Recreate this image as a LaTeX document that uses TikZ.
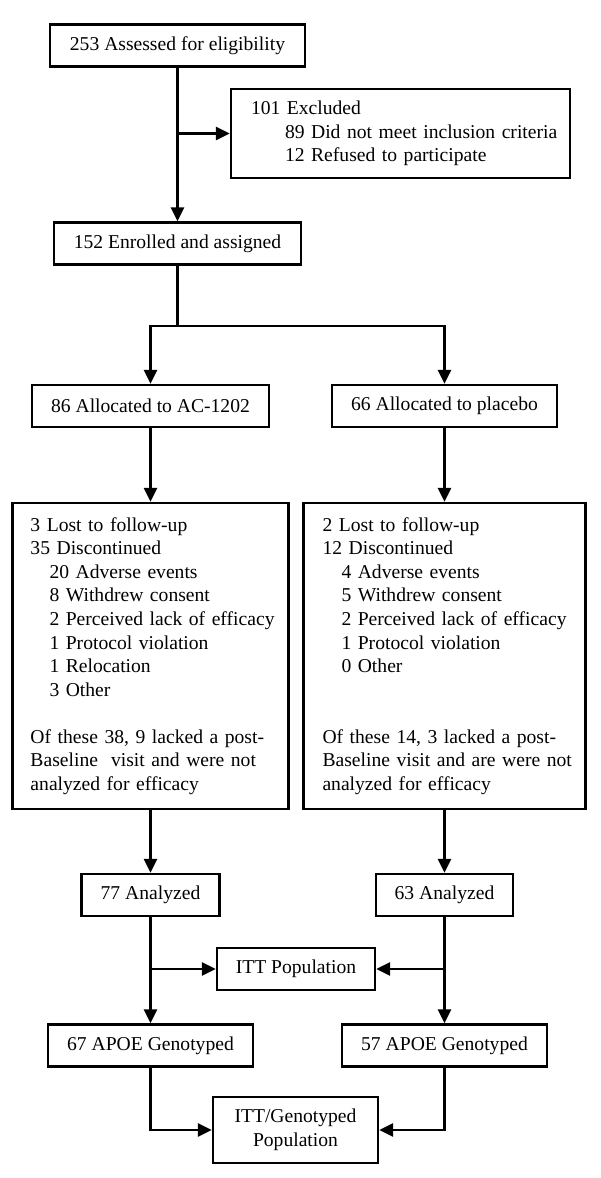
\documentclass[tikz,border=0pt]{standalone}
\usepackage{fontspec}
\setmainfont{Liberation Serif}
\usepackage{tikz}
\usetikzlibrary{arrows.meta,calc,positioning}
\newlength{\pxu}
\setlength{\pxu}{0.612pt}
\tikzset{
	consort/.style={
		x=\pxu, y=-\pxu,
		line width=1.6pt,
		font=\fontsize{12}{14.4}\selectfont,
		arr/.style={-{Triangle[length=8.5pt,width=8pt]}},
		},
	cbox/.style={draw, rectangle, inner sep=0pt, align=center, minimum height=42\pxu},
	% boxes with a left aligned list inside
	lbox/.code 2 args={
		\pgfmathsetlengthmacro{\lboxtw}{(#1-2*#2)*\pxu}
		\pgfkeysalso{draw, rectangle, align=left, inner ysep=0pt,
			inner xsep=#2\pxu, text width=\lboxtw, minimum width=#1\pxu}
	},
}
% one line of a list, never broken
\newcommand{\li}[2][0]{\mbox{\hspace*{#1\pxu}#2}}

\begin{document}
\begin{tikzpicture}[consort]
	\useasboundingbox (0,0) rectangle (600,1178);
	\node[cbox, minimum width=255\pxu] (assess) at (177.5,45.5) {253 Assessed for eligibility};
	\node[lbox={339}{20}, minimum height=89\pxu] (excl) at (400.5,133.5)
		{\li{101 Excluded}\\ \li[34]{89 Did not meet inclusion criteria}\\ \li[34]{12 Refused to participate}};
	\node[cbox, minimum width=247\pxu] (enrol) at (177.5,243.5) {152 Enrolled and assigned};
	\coordinate (split) at (177.5,326);
	\node[cbox, minimum width=237\pxu] (allocL) at (150.5,406) {86 Allocated to AC-1202};
	\node[cbox, minimum width=225\pxu] (allocR) at (444.5,406) {66 Allocated to placebo};
	\node[lbox={276}{18}, minimum height=306\pxu] (lossL) at (150.5,656)
		{\li{3 Lost to follow-up}\\ \li{35 Discontinued}\\ \li[19]{20 Adverse events}\\ \li[19]{8 Withdrew consent}\\
		 \li[19]{2 Perceived lack of efficacy}\\ \li[19]{1 Protocol violation}\\ \li[19]{1 Relocation}\\ \li[19]{3 Other}\\
		 \li{}\\ \li{Of these 38, 9 lacked a post-}\\ \li{Baseline~ visit and were not}\\ \li{analyzed for efficacy}};
	\node[lbox={282}{19}, minimum height=306\pxu] (lossR) at (444.5,656)
		{\li{2 Lost to follow-up}\\ \li{12 Discontinued}\\ \li[19]{4 Adverse events}\\ \li[19]{5 Withdrew consent}\\
		 \li[19]{2 Perceived lack of efficacy}\\ \li[19]{1 Protocol violation}\\ \li[19]{0 Other}\\
		 \li{}\\ \li{}\\ \li{Of these 14, 3 lacked a post-}\\ \li{Baseline visit and are were not}\\ \li{analyzed for efficacy}};
	\node[cbox, minimum width=138\pxu] (anL) at (150.5,895) {77 Analyzed};
	\node[cbox, minimum width=137\pxu] (anR) at (444.5,895) {63 Analyzed};
	\node[cbox, minimum width=158\pxu] (itt) at (296,969) {ITT Population};
	\node[cbox, minimum width=205\pxu] (apoeL) at (150.5,1045.5) {67 APOE Genotyped};
	\node[cbox, minimum width=205\pxu] (apoeR) at (444.5,1045.5) {57 APOE Genotyped};
	\node[cbox, minimum width=165\pxu, minimum height=66\pxu] (ittg) at (295.5,1130) {ITT/Genotyped\\ Population};

	\draw[arr] (assess) -- (enrol);
	\draw[arr] (assess.south |- excl.west) -- (excl.west);
	\draw (enrol) -- (split);
	\draw[arr] (split) -| (allocL);
	\draw[arr] (split) -| (allocR);
	\draw[arr] (allocL) -- (lossL);
	\draw[arr] (allocR) -- (lossR);
	\draw[arr] (lossL) -- (anL);
	\draw[arr] (lossR) -- (anR);
	\draw[arr] (anL) -- (apoeL);
	\draw[arr] (anR) -- (apoeR);
	\draw[arr] (anL.south |- itt.west) -- (itt.west);
	\draw[arr] (anR.south |- itt.east) -- (itt.east);
	\draw[arr] (apoeL.south) |- (ittg.west);
	\draw[arr] (apoeR.south) |- (ittg.east);
\end{tikzpicture}
\end{document}
